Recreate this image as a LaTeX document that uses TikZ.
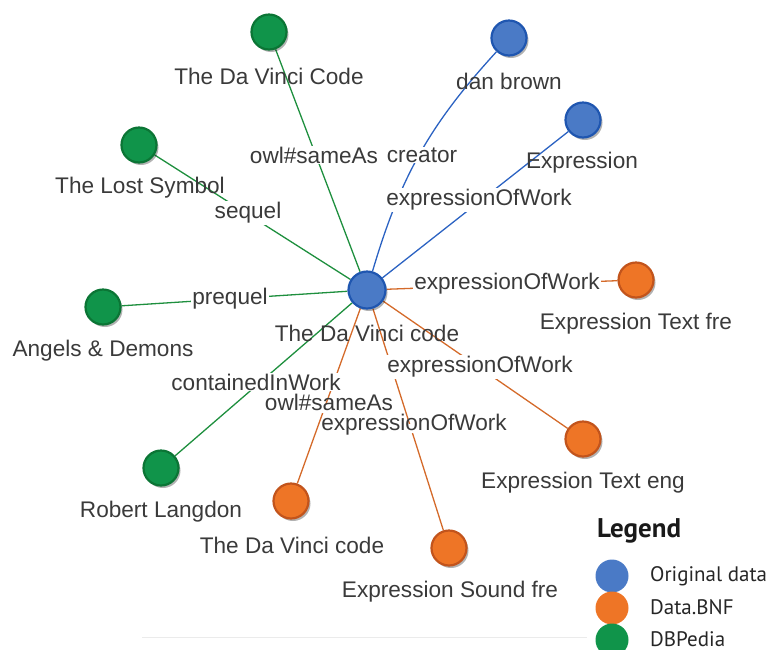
\documentclass[tikz,border=0pt]{standalone}
\usepackage{fontspec}
\setmainfont{Liberation Sans}
\newfontfamily\legendfont{PT Sans}
\usetikzlibrary{shadows,backgrounds}

\definecolor{nblue}{HTML}{4A7AC6}
\definecolor{nblueB}{HTML}{1F56B0}
\definecolor{norange}{HTML}{EE7526}
\definecolor{norangeB}{HTML}{C2541C}
\definecolor{ngreen}{HTML}{10944A}
\definecolor{ngreenB}{HTML}{0B7535}
\definecolor{eblue}{HTML}{2B62C2}
\definecolor{egreen}{HTML}{1E8F3E}
\definecolor{eorange}{HTML}{D46A2A}
\definecolor{txt}{HTML}{3A3A3A}
\definecolor{lgblue}{HTML}{4A7AC6}
\definecolor{lgorange}{HTML}{EE7526}
\definecolor{lggreen}{HTML}{10944A}

\tikzset{
  vnode/.style={circle, minimum size=35pt, inner sep=0pt, line width=2.2pt,
    drop shadow={shadow xshift=2pt, shadow yshift=-2.5pt, opacity=0.3, fill=black}},
  bluenode/.style={vnode, fill=nblue, draw=nblueB},
  orangenode/.style={vnode, fill=norange, draw=norangeB},
  greennode/.style={vnode, fill=ngreen, draw=ngreenB},
  lbl/.style={text=txt, font=\fontsize{22.6}{25}\selectfont, inner sep=0pt},
  elbl/.style={lbl, fill=white, inner sep=1pt},
  tightlbl/.style={lbl, fill=white, inner sep=0pt, text height=0.7em, text depth=0.2em},
  bedge/.style={draw=eblue, line width=1.3pt},
  gedge/.style={draw=egreen, line width=1.3pt},
  oedge/.style={draw=eorange, line width=1.3pt},
  legdot/.style={circle, minimum size=33pt, inner sep=0pt},
  legtxt/.style={text=black!85, font=\legendfont\fontsize{21}{23}\selectfont, anchor=west, inner sep=0pt},
}

\begin{document}
\begin{tikzpicture}[x=1pt, y=-1pt]
\useasboundingbox (0,0) rectangle (772,649);
\clip (0,0) rectangle (772,649);

% graph nodes
\node[bluenode, minimum size=37pt] (c) at (367,290) {};
\node[bluenode] (dan) at (509,38) {};
\node[bluenode] (expr) at (583,120) {};
\node[greennode] (dvc) at (269,32) {};
\node[greennode] (lost) at (139,145) {};
\node[greennode] (angels) at (103,307) {};
\node[greennode] (robert) at (161,468) {};
\node[orangenode] (dvcbnf) at (291,501) {};
\node[orangenode] (sound) at (449,548) {};
\node[orangenode] (teng) at (583,439) {};
\node[orangenode] (tfre) at (636,280) {};

% connectors, kept under the nodes
\begin{scope}[on background layer]
  \draw[bedge] (c) to[bend left=13] (dan);
  \draw[bedge] (c) -- (expr);
  \draw[gedge] (c) -- (dvc);
  \draw[gedge] (c) -- (lost);
  \draw[gedge] (c) -- (angels);
  \draw[gedge] (c) -- (robert);
  \draw[oedge] (c) -- (dvcbnf);
  \draw[oedge] (c) -- (sound);
  \draw[oedge] (c) -- (teng);
  \draw[oedge] (c) -- (tfre);
\end{scope}

% node captions
\node[lbl] (tc) at (367,333) {The Da Vinci code};
\node[lbl] (tdan) at (509,81) {dan brown};
\node[lbl] (texpr) at (582,163) {Expression};
\node[lbl] (tdvc) at (269,76) {The Da Vinci Code};
\node[lbl] (tlost) at (140,188) {The Lost Symbol};
\node[lbl] (tangels) at (103,351) {Angels \& Demons};
\node[lbl] (trobert) at (161,512) {Robert Langdon};
\node[lbl] (tdvcbnf) at (292,545) {The Da Vinci code};
\node[lbl] (tsound) at (450,592) {Expression Sound fre};
\node[lbl] (tteng) at (583,483) {Expression Text eng};
\node[lbl] (ttfre) at (636,324) {Expression Text fre};

% connector labels
\node[elbl] (e1) at (314,155) {owl\#sameAs};
\node[elbl] (e2) at (422,155) {creator};
\node[elbl] (e3) at (479,200) {expressionOfWork};
\node[elbl] (e4) at (248,213) {sequel};
\node[elbl] (e5) at (230,299) {prequel};
\node[elbl] (e6) at (256,382) {containedInWork};
\node[tightlbl] (e8) at (414,428) {expressionOfWork};
\node[tightlbl] (e7) at (329,408) {owl\#sameAs};
\node[elbl] (e9) at (480,367) {expressionOfWork};
\node[elbl] (e10) at (507,284) {expressionOfWork};

% legend
\node[anchor=west, inner sep=0pt, text=black!90, font=\legendfont\bfseries\fontsize{27}{30}\selectfont] (leg) at (597,531) {Legend};
\node[legdot, fill=lgblue] (lb) at (612,576) {};
\node[legdot, fill=lgorange] (lo) at (612,608) {};
\node[legdot, fill=lggreen] (lg) at (612,640) {};
\node[legtxt] (lbt) at (650,576) {Original data};
\node[legtxt] (lot) at (650,607) {Data.BNF};
\node[legtxt] (lgt) at (650,639) {DBPedia};

% thin rule along the bottom
\coordinate (ruleL) at (142,637);
\coordinate (ruleR) at (587,637);
\draw[black!8, line width=1pt] (ruleL) -- (ruleR);
\end{tikzpicture}
\end{document}
